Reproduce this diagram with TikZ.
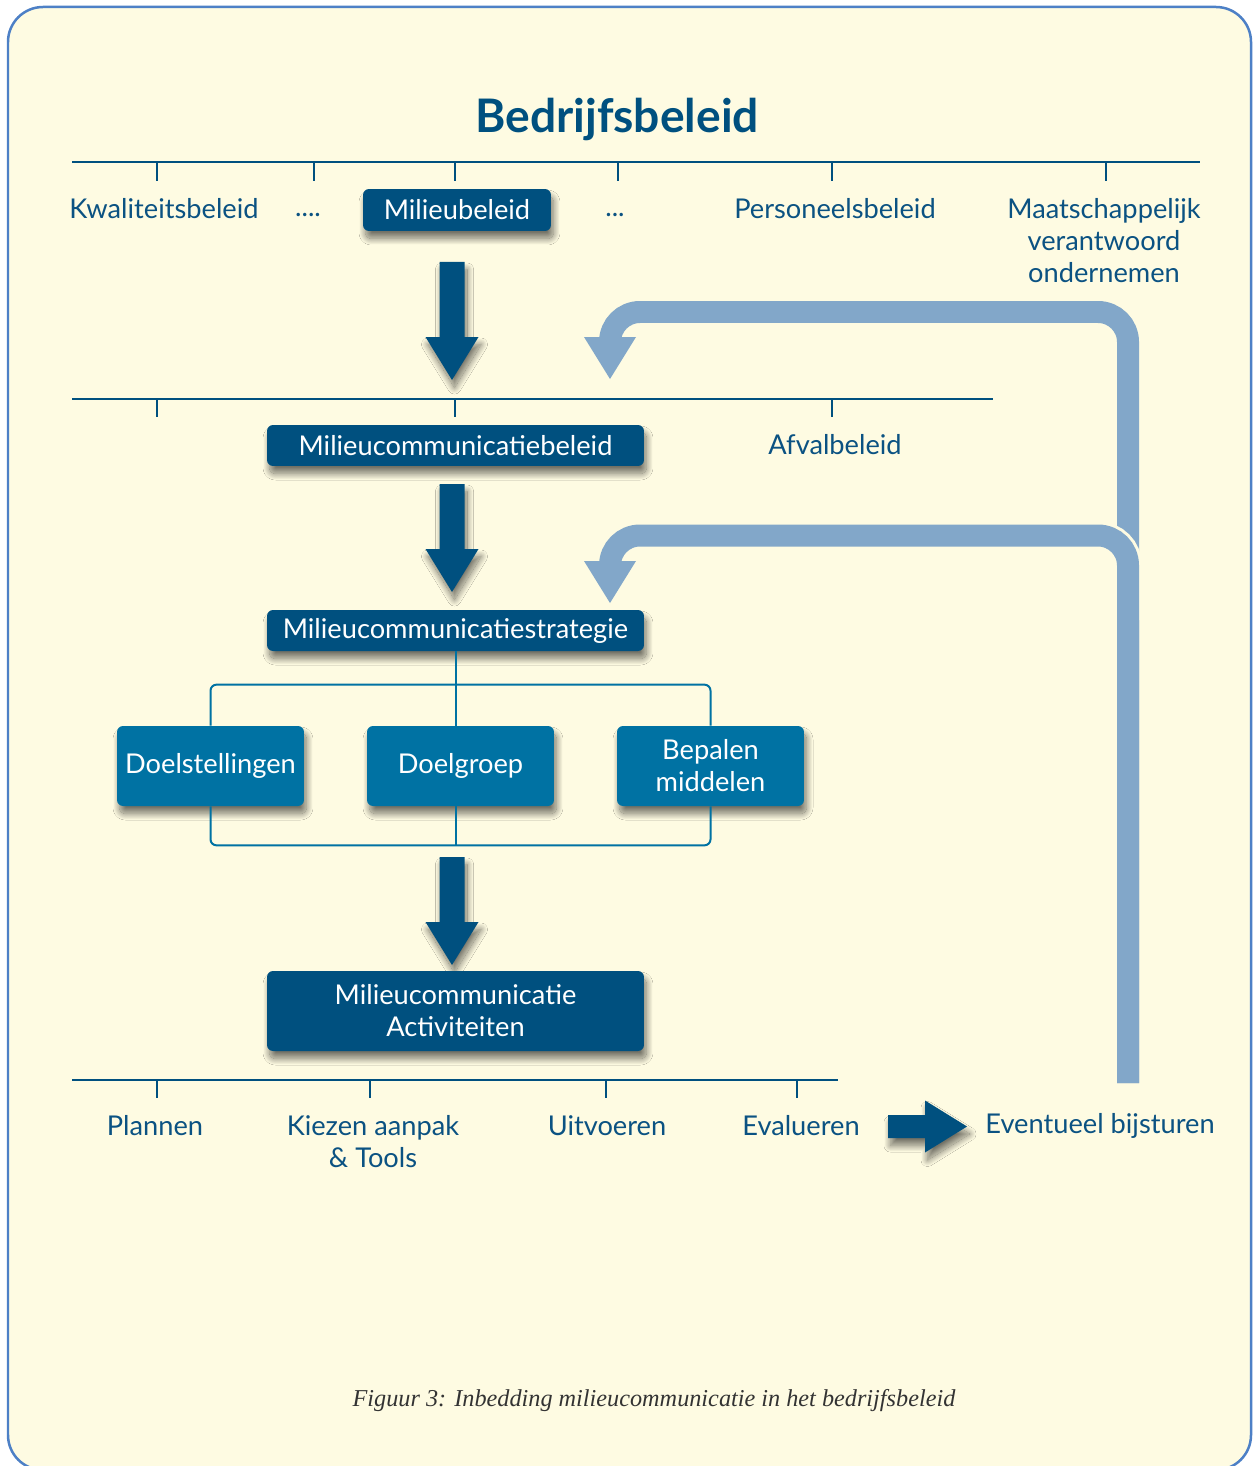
\documentclass[tikz,border=0pt]{standalone}
\usepackage{fontspec}
\setmainfont{Lato}
\newfontfamily\captionfont{Liberation Serif}
\usetikzlibrary{shadows.blur}

\begin{document}
\begin{tikzpicture}[x=0.02cm,y=-0.02cm]

\definecolor{dcolor}{HTML}{00507F}
\definecolor{mcolor}{HTML}{0072A3}
\definecolor{lcolor}{HTML}{82A7C9}
\definecolor{tcolor}{HTML}{0B5282}
\definecolor{bgcolor}{HTML}{FEFBE2}
\definecolor{framecolor}{HTML}{4D80C6}

\tikzstyle{labeltext}=[color=tcolor, font=\fontsize{15.5}{18.2}\selectfont, align=center]
\tikzstyle{boxshadow}=[blur shadow={shadow xshift=0.05cm, shadow yshift=-0.15cm, shadow blur radius=0.13cm, shadow blur steps=24, shadow opacity=55}]
\tikzstyle{darkbox}=[fill=dcolor, rounded corners=0.12cm, text=white, font=\fontsize{15.5}{18.2}\selectfont, align=center, inner sep=0pt, boxshadow]
\tikzstyle{midbox}=[darkbox, fill=mcolor]
\tikzstyle{axis}=[line width=0.05cm, color=dcolor]
\tikzstyle{bracket}=[line width=0.04cm, color=mcolor, rounded corners=0.12cm]
\tikzstyle{backarrow}=[line width=0.44cm, color=lcolor, rounded corners=0.6cm]
\tikzstyle{fatarrow}=[fill=dcolor, boxshadow]

\useasboundingbox (0,0) rectangle (1259,1466);
\draw[framecolor, line width=0.05cm, fill=bgcolor, rounded corners=0.7cm] (8,7) rectangle (1251,1470);

\def\fatdown#1#2{
\begin{scope}[shift={#1}]
    \fill[fatarrow] (-12.5,0) -- (12.5,0) -- (12.5,#2-43) -- (26.5,#2-43) -- (0,#2) -- (-26.5,#2-43) -- (-12.5,#2-43) -- cycle;
\end{scope}
}

\def\fatright#1#2{
\begin{scope}[shift={#1}]
    \fill[fatarrow] (0,-11.5) -- (#2-42,-11.5) -- (#2-42,-26) -- (#2,0) -- (#2-42,26) -- (#2-42,11.5) -- (0,11.5) -- cycle;
\end{scope}
}

\def\lighthead#1{
\begin{scope}[shift={#1}]
    \fill[lcolor] (-26,-42) -- (26,-42) -- (0,0) -- cycle;
\end{scope}
}

% title and first level
\node[color=dcolor, font=\fontsize{26.3}{32}\bfseries\selectfont] (title) at (617,119) {Bedrijfsbeleid};
\draw[axis] (72,162) -- (1200,162);
\foreach \x in {157,314,455,618,832,1106} {
    \draw[axis] (\x,162) -- (\x,181);
};
\node[labeltext] (kwal) at (164,209) {Kwaliteitsbeleid};
\node[labeltext, anchor=base] (dotsa) at (308,217) {....};
\node[darkbox, minimum width=3.76cm, minimum height=0.84cm] (milbel) at (457,210) {Milieubeleid};
\node[labeltext, anchor=base] (dotsb) at (615,217) {...};
\node[labeltext] (pers) at (835,209) {Personeelsbeleid};
\node[labeltext] (mvo) at (1104,241) {Maatschappelijk\\verantwoord\\ondernemen};

% second level
\fatdown{(452,262)}{118}
\draw[axis] (72,399) -- (993,399);
\foreach \x in {157,455,832} {
    \draw[axis] (\x,399) -- (\x,417);
};
\node[darkbox, minimum width=7.54cm, minimum height=0.82cm] (mcbel) at (455.5,445.5) {Milieucommunicatiebeleid};
\node[labeltext] (afval) at (835,445) {Afvalbeleid};

% strategy
\fatdown{(452,484)}{108}
\node[darkbox, minimum width=7.54cm, minimum height=0.82cm] (strat) at (455.5,630.5) {Milieucommunicatiestrategie};
\node[midbox, minimum width=3.74cm, minimum height=1.6cm] (doel) at (210.5,766) {Doelstellingen};
\node[midbox, minimum width=3.74cm, minimum height=1.6cm] (dgroep) at (460.5,766) {Doelgroep};
\node[midbox, minimum width=3.74cm, minimum height=1.6cm] (bepalen) at (710.5,766) {Bepalen\\middelen};
\draw[bracket] (strat.south) -- (strat.south |- dgroep.north);
\draw[bracket] (doel.north) -- ++(0,-41) -| (bepalen.north);
\draw[bracket] (doel.south) -- ++(0,39) -| (bepalen.south);
\draw[bracket] (strat.south |- dgroep.south) -- ++(0,39);

% activities
\fatdown{(452,857)}{108}
\node[darkbox, minimum width=7.54cm, minimum height=1.6cm] (act) at (455.5,1011) {Milieucommunicatie\\Activiteiten};
\draw[axis] (72,1080) -- (838,1080);
\foreach \x in {157,370,606,797} {
    \draw[axis] (\x,1080) -- (\x,1098);
};
\node[labeltext] (plan) at (155,1126) {Plannen};
\node[labeltext] (kiez) at (373,1142) {Kiezen aanpak\\\& Tools};
\node[labeltext] (uitv) at (607,1126) {Uitvoeren};
\node[labeltext] (eval) at (801,1126) {Evalueren};
\fatright{(888,1126.5)}{79}
\node[labeltext] (bijst) at (1100,1126) {Eventueel bijsturen};

% feedback arrows
\coordinate (fb) at (1128,1083);
\draw[backarrow] (fb) -- (1128,312) -- (610,312) -- (610,345);
\lighthead{(610,379)}
\draw[line width=0.56cm, color=bgcolor, rounded corners=0.6cm] (1128,620) -- (1128,535.5) -- (610,535.5);
\draw[backarrow] (fb) -- (1128,535.5) -- (610,535.5) -- (610,569);
\lighthead{(610,603)}

\node[color=black!80, font=\captionfont\itshape\fontsize{13.8}{16}\selectfont] (caption) at (654,1401) {Figuur 3: Inbedding milieucommunicatie in het bedrijfsbeleid};

\end{tikzpicture}
\end{document}
